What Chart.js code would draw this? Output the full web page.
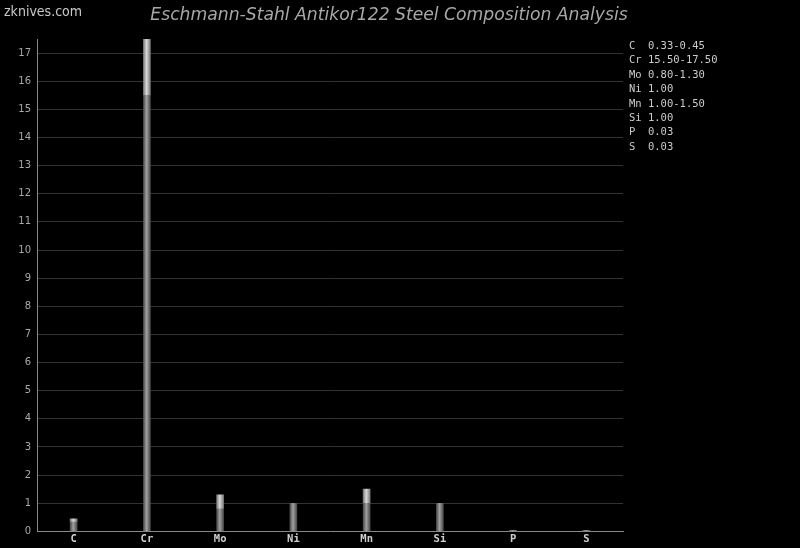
<!DOCTYPE html>
<html><head><meta charset="utf-8">
<script src="https://cdn.jsdelivr.net/npm/chart.js@4"></script>
<style>html,body{margin:0;padding:0;background:#000;}#wrap{width:800px;height:548px;}</style>
</head><body><div id="wrap"><canvas id="c" width="800" height="548"></canvas></div>
<script>
const categories = ['C','Cr','Mo','Ni','Mn','Si','P','S'];
const minValues = [0.33, 15.5, 0.8, 1.0, 1.0, 1.0, 0.03, 0.03];
const rangeValues = [0.12, 2.0, 0.5, 0, 0.5, 0, 0, 0];
const legendLines = ['C  0.33-0.45','Cr 15.50-17.50','Mo 0.80-1.30','Ni 1.00','Mn 1.00-1.50','Si 1.00','P  0.03','S  0.03'];
const titleText = 'Eschmann-Stahl Antikor122 Steel Composition Analysis';
const siteText = 'zknives.com';

function barGrad(ctx, edge, mid){
  const chart = ctx.chart;
  const xs = chart.scales && chart.scales.x;
  if(!xs || !chart.chartArea) return mid;
  const cx = xs.getPixelForValue(ctx.dataIndex);
  const g = chart.ctx.createLinearGradient(cx-3.5,0,cx+3.5,0);
  g.addColorStop(0, edge); g.addColorStop(0.45, mid); g.addColorStop(1, edge);
  return g;
}

const textPlugin = {
  id:'texts',
  afterDraw(chart){
    const c = chart.ctx;
    c.save();
    c.fillStyle = '#a8a8a8';
    c.font = 'italic 17.2px "DejaVu Sans"';
    c.textAlign = 'center'; c.textBaseline = 'middle';
    c.fillText(titleText, 389, 16);
    c.fillStyle = '#c8c8c8';
    c.font = '14px "DejaVu Sans Condensed"';
    c.textAlign = 'left';
    c.fillText(siteText, 4, 12);
    c.fillStyle = '#cccccc';
    c.font = '10.5px "DejaVu Sans Mono"';
    legendLines.forEach((t,i)=>c.fillText(t, 629, 46 + i*14.45));
    c.restore();
  }
};

new Chart(document.getElementById('c'), {
  type:'bar',
  data:{
    labels: categories,
    datasets:[
      {data:minValues, backgroundColor:(ctx)=>barGrad(ctx,'#4a4a4a','#a0a0a0'), barThickness:7, stack:'s'},
      {data:rangeValues, backgroundColor:(ctx)=>barGrad(ctx,'#7a7a7a','#d8d8d8'), barThickness:7, stack:'s'}
    ]
  },
  options:{
    responsive:false, animation:false, devicePixelRatio:1,
    layout:{padding:{left:0,right:177,top:39,bottom:0}},
    plugins:{legend:{display:false}, tooltip:{enabled:false}, title:{display:false}},
    scales:{
      x:{stacked:true,
        grid:{display:false, drawTicks:false},
        border:{color:'#8a8a8a', width:1},
        ticks:{color:'#d0d0d0', font:{family:'"DejaVu Sans Mono"', size:10.5, weight:'bold'}, padding:2}
      },
      y:{stacked:true, min:0, max:17.5,
        afterBuildTicks(s){ s.ticks = s.ticks.filter(t=>Number.isInteger(t.value)); },
        afterFit(s){ s.width = 37; },
        grid:{color:'#333333', drawTicks:false},
        border:{color:'#8a8a8a', width:1},
        ticks:{stepSize:1, color:'#a8a8a8', font:{family:'"DejaVu Sans"', size:10}, padding:6}
      }
    }
  },
  plugins:[textPlugin]
});
</script></body></html>
